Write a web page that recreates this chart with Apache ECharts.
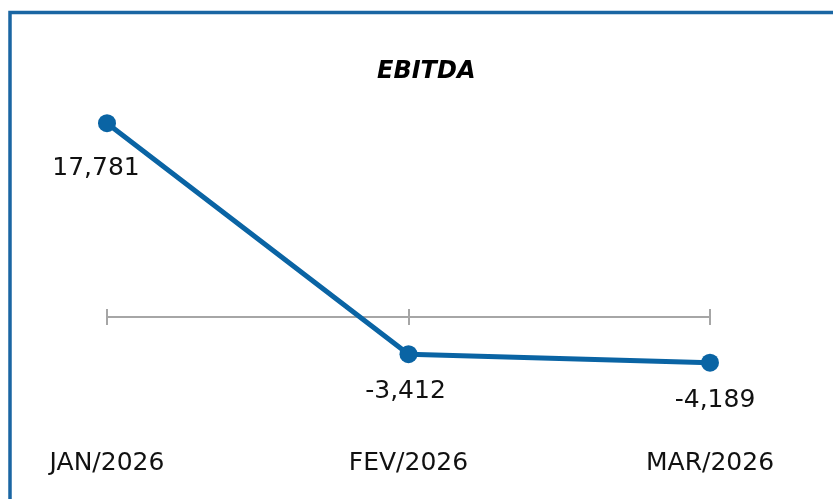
<!DOCTYPE html>
<html>
<head>
<meta charset="utf-8">
<script src="https://cdn.jsdelivr.net/npm/echarts@6/dist/echarts.min.js"></script>
<style>
  html, body { margin: 0; padding: 0; background: #fff; }
  #chart { width: 833px; height: 499px; }
</style>
</head>
<body>
<div id="chart"></div>
<script>
var months = ['JAN/2026', 'FEV/2026', 'MAR/2026'];
var ebitda = [17781, -3412, -4189];
var labelOffsets = [[-11, 8], [-3, 0], [5, 0]];

var blue = '#0a64a4';
var fontName = '"DejaVu Sans", sans-serif';

var myChart = echarts.init(document.getElementById('chart'));

var points = ebitda.map(function (v, i) {
    return { value: v, label: { offset: labelOffsets[i] } };
});

var option = {
    backgroundColor: '#ffffff',
    animation: false,
    title: {
        text: 'EBITDA',
        left: 372,
        top: 55,
        textStyle: { fontFamily: fontName, fontSize: 24, fontWeight: 'bold', fontStyle: 'italic', color: '#000' }
    },
    graphic: [{
        type: 'rect',
        shape: { x: 10, y: 12.5, width: 900, height: 600 },
        style: { fill: 'none', stroke: '#1a66a3', lineWidth: 3.5 }
    }],
    grid: { left: 107, right: 123, top: 99, bottom: 73, containLabel: false, outerBoundsMode: 'none' },
    xAxis: [{
        type: 'category',
        data: months,
        boundaryGap: false,
        axisLine: { onZero: true, lineStyle: { color: '#a6a6a6', width: 2 } },
        axisTick: { length: 8, lineStyle: { color: '#a6a6a6', width: 2 } },
        axisLabel: { margin: 25, color: '#111', fontFamily: fontName, fontSize: 25 }
    }, {
        // upper half of the ticks, sitting on the zero line
        type: 'category',
        data: months,
        boundaryGap: false,
        position: 'bottom',
        offset: -109,
        axisLine: { show: false, onZero: false },
        axisTick: { inside: true, length: 8, lineStyle: { color: '#a6a6a6', width: 2 } },
        axisLabel: { show: false }
    }],
    yAxis: {
        type: 'value',
        min: -10000,
        max: 20000,
        show: false,
        splitLine: { show: false }
    },
    series: [{
        name: 'EBITDA',
        type: 'line',
        data: points,
        symbol: 'circle',
        symbolSize: 18,
        lineStyle: { color: blue, width: 5 },
        itemStyle: { color: blue },
        label: {
            show: true,
            position: 'bottom',
            distance: 16,
            color: '#111',
            fontFamily: fontName,
            fontSize: 25,
            formatter: function (p) {
                return p.value.toLocaleString('en-US');
            }
        }
    }]
};

myChart.setOption(option);
</script>
</body>
</html>
